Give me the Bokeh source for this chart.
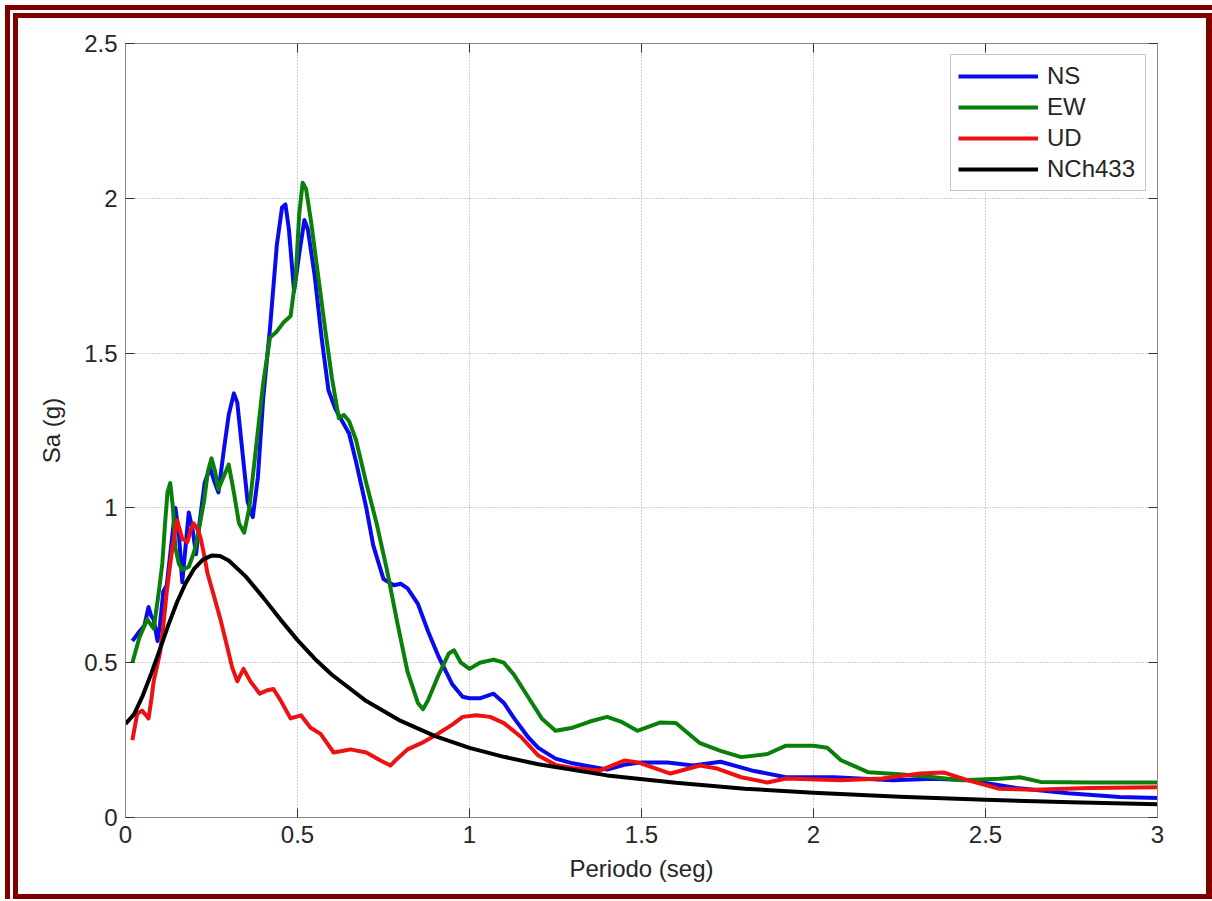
from bokeh.plotting import figure
from bokeh.models import (FixedTicker, LinearAxis, Range1d, Legend, LegendItem,
                          CustomJSTickFormatter)
from bokeh.embed import file_html
from bokeh.resources import INLINE

# ---------------- data ----------------
x_ticks = [0, 0.5, 1, 1.5, 2, 2.5, 3]
y_ticks = [0, 0.5, 1, 1.5, 2, 2.5]

ns_T = [0.02, 0.04, 0.055, 0.067, 0.075, 0.082, 0.093, 0.10, 0.11, 0.12, 0.13, 0.145, 0.155,
        0.165, 0.175, 0.184, 0.195, 0.205, 0.215, 0.23, 0.245, 0.26, 0.27, 0.285, 0.30, 0.315,
        0.325, 0.34, 0.355, 0.37, 0.385, 0.40, 0.42, 0.44, 0.455, 0.465, 0.475, 0.49, 0.505,
        0.52, 0.53, 0.55, 0.57, 0.59, 0.61, 0.63, 0.65, 0.67, 0.70, 0.72, 0.75, 0.78, 0.80,
        0.82, 0.85, 0.88, 0.91, 0.95, 0.98, 1.0, 1.03, 1.07, 1.10, 1.13, 1.17, 1.2, 1.25, 1.3,
        1.35, 1.4, 1.45, 1.5, 1.575, 1.65, 1.73, 1.82, 1.92, 2.06, 2.23, 2.35, 2.45, 2.59,
        2.74, 2.89, 3.0]
ns_Sa = [0.57, 0.60, 0.62, 0.68, 0.65, 0.64, 0.57, 0.62, 0.73, 0.75, 0.85, 1.0, 0.92,
         0.76, 0.88, 0.985, 0.93, 0.85, 0.95, 1.08, 1.13, 1.08, 1.05, 1.18, 1.30, 1.37,
         1.34, 1.18, 1.02, 0.97, 1.10, 1.35, 1.58, 1.85, 1.97, 1.98, 1.90, 1.70, 1.82,
         1.93, 1.90, 1.75, 1.55, 1.38, 1.32, 1.28, 1.24, 1.15, 1.0, 0.88, 0.77, 0.75, 0.755,
         0.74, 0.69, 0.60, 0.52, 0.43, 0.39, 0.385, 0.385, 0.40, 0.37, 0.32, 0.26, 0.225, 0.19, 0.175,
         0.165, 0.155, 0.17, 0.178, 0.178, 0.168, 0.18, 0.152, 0.13, 0.13, 0.12, 0.125, 0.12, 0.095,
         0.078, 0.066, 0.063]

ew_T = [0.02, 0.04, 0.063, 0.082, 0.097, 0.107, 0.115, 0.122, 0.13, 0.138, 0.145, 0.155, 0.165,
        0.184, 0.20, 0.209, 0.228, 0.24, 0.25, 0.26, 0.27, 0.285, 0.30, 0.315, 0.33, 0.345,
        0.36, 0.38, 0.40, 0.42, 0.44, 0.46, 0.48, 0.495, 0.505, 0.515, 0.525, 0.54, 0.56, 0.58,
        0.60, 0.62, 0.635, 0.65, 0.67, 0.70, 0.73, 0.76, 0.79, 0.82, 0.85, 0.865, 0.88, 0.91,
        0.94, 0.955, 0.975, 1.0, 1.03, 1.07, 1.10, 1.13, 1.17, 1.21, 1.25, 1.3, 1.35, 1.40,
        1.44, 1.488, 1.555, 1.60, 1.67, 1.73, 1.79, 1.866, 1.92, 2.0, 2.04, 2.08, 2.16, 2.25,
        2.35, 2.43, 2.54, 2.6, 2.66, 2.8, 3.0]
ew_Sa = [0.50, 0.58, 0.64, 0.61, 0.73, 0.82, 0.95, 1.05, 1.08, 1.0, 0.87, 0.82, 0.80,
         0.81, 0.86, 0.905, 1.02, 1.12, 1.16, 1.12, 1.06, 1.10, 1.14, 1.05, 0.95, 0.92,
         1.0, 1.2, 1.40, 1.55, 1.57, 1.60, 1.62, 1.75, 1.95, 2.05, 2.03, 1.92, 1.75, 1.58,
         1.42, 1.29, 1.30, 1.28, 1.22, 1.08, 0.95, 0.80, 0.63, 0.47, 0.37, 0.35, 0.38, 0.46,
         0.53, 0.54, 0.50, 0.48, 0.50, 0.51, 0.50, 0.46, 0.39, 0.32, 0.28, 0.29, 0.31, 0.325,
         0.31, 0.28, 0.307, 0.305, 0.24, 0.215, 0.195, 0.205, 0.232, 0.232, 0.225, 0.185, 0.146, 0.14,
         0.13, 0.12, 0.125, 0.13, 0.115, 0.113, 0.113]

ud_T = [0.02, 0.034, 0.048, 0.06, 0.067, 0.075, 0.082, 0.10, 0.11, 0.12, 0.128, 0.136, 0.15,
        0.165, 0.18, 0.19, 0.198, 0.21, 0.218, 0.23, 0.238, 0.256, 0.276, 0.296, 0.31, 0.325,
        0.343, 0.363, 0.39, 0.41, 0.43, 0.45, 0.48, 0.51, 0.538, 0.567, 0.605, 0.63, 0.654,
        0.70, 0.74, 0.77, 0.79, 0.82, 0.86, 0.9, 0.95, 0.98, 1.02, 1.06, 1.1, 1.15, 1.2, 1.25,
        1.3, 1.38, 1.45, 1.49, 1.584, 1.67, 1.72, 1.79, 1.866, 1.92, 2.08, 2.2, 2.31, 2.38,
        2.45, 2.54, 2.64, 2.8, 3.0]
ud_Sa = [0.25, 0.335, 0.345, 0.33, 0.32, 0.38, 0.44, 0.53, 0.62, 0.73, 0.80, 0.87, 0.96,
         0.90, 0.89, 0.93, 0.95, 0.93, 0.905, 0.84, 0.79, 0.72, 0.64, 0.55, 0.485, 0.44,
         0.48, 0.44, 0.40, 0.41, 0.415, 0.38, 0.32, 0.33, 0.29, 0.27, 0.21, 0.215, 0.22,
         0.21, 0.185, 0.168, 0.19, 0.22, 0.24, 0.265, 0.30, 0.325, 0.33, 0.325, 0.305, 0.26, 0.20, 0.17,
         0.16, 0.152, 0.184, 0.178, 0.142, 0.168, 0.158, 0.13, 0.113, 0.126, 0.12, 0.126, 0.142, 0.145,
         0.12, 0.093, 0.09, 0.095, 0.098]

nch_T = [0, 0.025, 0.05, 0.075, 0.1, 0.125, 0.15, 0.175, 0.2, 0.225, 0.25, 0.275, 0.3, 0.35,
         0.4, 0.45, 0.5, 0.55, 0.6, 0.7, 0.8, 0.9, 1.0, 1.1, 1.2, 1.4, 1.6, 1.8, 2.0, 2.25,
         2.5, 2.75, 3.0]
nch_Sa = [0.302, 0.334, 0.393, 0.465, 0.543, 0.623, 0.696, 0.757, 0.804, 0.833, 0.846, 0.845,
          0.830, 0.778, 0.711, 0.640, 0.573, 0.513, 0.461, 0.376, 0.312, 0.263, 0.225, 0.196,
          0.172, 0.136, 0.112, 0.093, 0.080, 0.067, 0.057, 0.049, 0.043]

series_names = ["NS", "EW", "UD", "NCh433"]
series_colors = ["#0a0aee", "#0a800a", "#ee1111", "#000000"]

# ---------------- figure ----------------
FONT = "Liberation Sans"
TXT = "#262626"
FS = "24px"
BORDER = "#800000"

frame_css = {
    "background-color": "white",
    "box-shadow": (
        "inset 2.5px 2.5px 0 2.5px #ffffff, "
        "inset 1px -1px 0 1px #ffffff, "
        f"inset 5px 5px 0 5px {BORDER}, "
        "inset 6.5px 6.5px 0 6.5px #ffffff, "
        f"inset 9px 9px 0 9px {BORDER}, "
        f"inset -2.5px -3.5px 0 3.5px {BORDER}"
    ),
}

p = figure(width=1212, height=901, output_backend="svg", toolbar_location=None,
           x_range=Range1d(0, 3), y_range=Range1d(0, 2.5),
           min_border_left=125, min_border_right=55, min_border_top=43, min_border_bottom=84,
           background_fill_color="white", border_fill_alpha=0.0, styles=frame_css)
p.outline_line_color = "#8a8a8a"
p.outline_line_width = 1

rs = []
for T, S, c in zip([ns_T, ew_T, ud_T, nch_T], [ns_Sa, ew_Sa, ud_Sa, nch_Sa], series_colors):
    rs.append(p.line(T, S, line_color=c, line_width=4, line_join="round"))

fmt = CustomJSTickFormatter(code="return tick.toString();")
blank = CustomJSTickFormatter(code="return '';")

xa = p.xaxis[0]
ya = p.yaxis[0]
xa.ticker = FixedTicker(ticks=x_ticks)
ya.ticker = FixedTicker(ticks=y_ticks)
for ax in (xa, ya):
    ax.formatter = fmt
    ax.major_tick_in = 9
    ax.major_tick_out = 0
    ax.minor_tick_line_color = None
    ax.major_tick_line_color = "#333333"
    ax.axis_line_color = "#8a8a8a"
    ax.major_label_text_font = FONT
    ax.major_label_text_font_size = FS
    ax.major_label_text_color = TXT
    ax.axis_label_text_font = FONT
    ax.axis_label_text_font_size = FS
    ax.axis_label_text_font_style = "normal"
    ax.axis_label_text_color = TXT
xa.major_label_standoff = 8
ya.major_label_standoff = 8
xa.axis_label = "Periodo (seg)"
ya.axis_label = "Sa (g)"
xa.axis_label_standoff = 9
ya.axis_label_standoff = 16

top = LinearAxis(ticker=FixedTicker(ticks=x_ticks), formatter=blank)
right = LinearAxis(ticker=FixedTicker(ticks=y_ticks), formatter=blank)
for ax in (top, right):
    ax.major_tick_in = 9
    ax.major_tick_out = 0
    ax.minor_tick_line_color = None
    ax.major_tick_line_color = "#333333"
    ax.axis_line_color = "#8a8a8a"
    ax.major_label_text_font_size = "1px"
p.add_layout(top, "above")
p.add_layout(right, "right")

p.xgrid[0].ticker = FixedTicker(ticks=x_ticks)
p.ygrid[0].ticker = FixedTicker(ticks=y_ticks)
for g in (p.xgrid[0], p.ygrid[0]):
    g.grid_line_color = "#a0a0a0"
    g.grid_line_dash = "1 2"
    g.grid_line_width = 1

legend = Legend(items=[LegendItem(label=n, renderers=[r]) for n, r in zip(series_names, rs)],
                location="top_right", margin=11, padding=7, spacing=3,
                glyph_width=80, glyph_height=24, label_height=24, label_width=91,
                label_standoff=9,
                label_text_font=FONT, label_text_font_size=FS, label_text_color=TXT,
                border_line_color="#8a8a8a", border_line_width=1,
                background_fill_color="white", background_fill_alpha=1.0)
p.add_layout(legend)

open("out.html", "w").write(file_html(p, INLINE))
